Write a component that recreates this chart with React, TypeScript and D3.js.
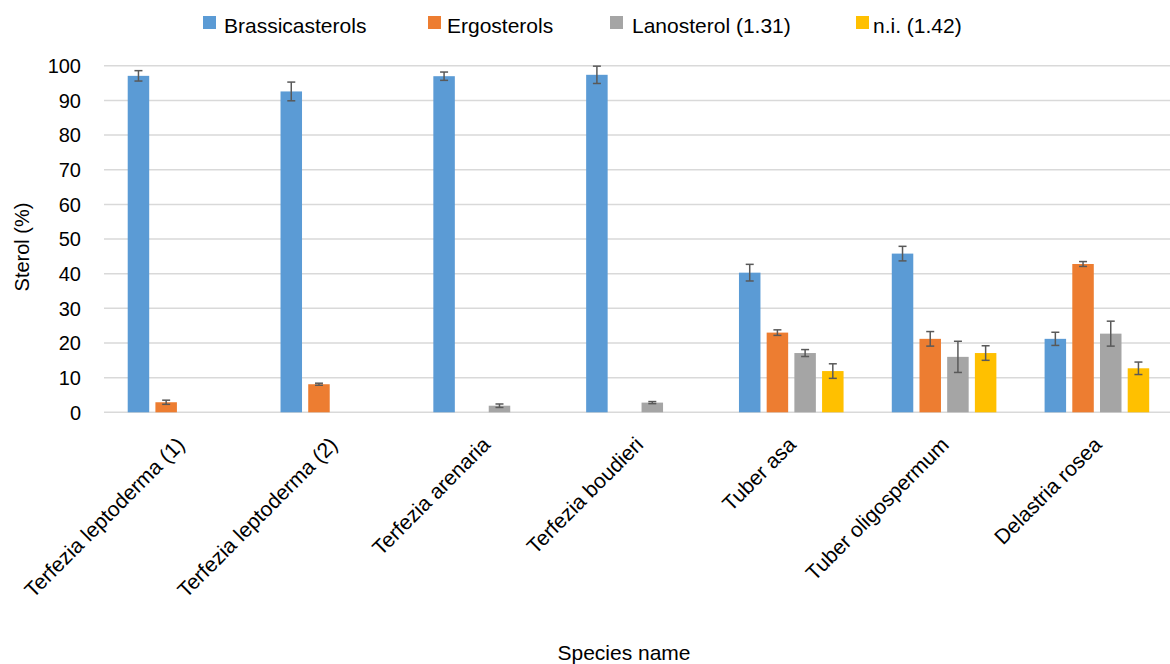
import React from "react";
import * as d3 from "d3";

const categories = [
  "Terfezia leptoderma (1)",
  "Terfezia leptoderma (2)",
  "Terfezia arenaria",
  "Terfezia boudieri",
  "Tuber asa",
  "Tuber oligospermum",
  "Delastria rosea",
];

const seriesNames = ["Brassicasterols", "Ergosterols", "Lanosterol (1.31)", "n.i. (1.42)"];

const brassicasterols = [97.1, 92.6, 97.0, 97.4, 40.3, 45.8, 21.2];
const brassicasterolsErr = [1.5, 2.7, 1.2, 2.5, 2.4, 2.1, 1.9];
const ergosterols = [2.9, 8.1, null, null, 23.0, 21.2, 42.8];
const ergosterolsErr = [0.6, 0.3, null, null, 0.8, 2.1, 0.7];
const lanosterol = [null, null, 1.9, 2.8, 17.1, 16.0, 22.7];
const lanosterolErr = [null, null, 0.5, 0.3, 1.0, 4.5, 3.6];
const ni = [null, null, null, null, 11.9, 17.1, 12.7];
const niErr = [null, null, null, null, 2.1, 2.1, 1.8];

const yTicks = [0, 10, 20, 30, 40, 50, 60, 70, 80, 90, 100];

const colors = ["#5B9BD5", "#ED7D31", "#A5A5A5", "#FFC000"];

const W = 1170;
const H = 664;

export default function App() {
  const values = [brassicasterols, ergosterols, lanosterol, ni];
  const errs = [brassicasterolsErr, ergosterolsErr, lanosterolErr, niErr];

  const x = d3.scaleBand<string>().domain(categories).range([103.6, 1173.3]).padding(0);
  const xi = d3
    .scaleBand<string>()
    .domain(seriesNames)
    .range([-55.4, 55.4])
    .paddingInner(0.224)
    .paddingOuter(0.112);
  const y = d3.scaleLinear().domain([0, 100]).range([412.3, 65.8]);

  const font = "'Liberation Sans', Arial, sans-serif";

  const legendSq = [203, 428, 610, 856];
  const legendTx = [224, 447, 632, 873];

  return (
    <svg
      width={W}
      height={H}
      style={{ position: "absolute", left: 0, top: 0, background: "#fff" }}
      fontFamily={font}
    >
      <rect x={0} y={0} width={W} height={H} fill="#fff" />
      {yTicks.map((t) => (
        <line
          key={"g" + t}
          x1={104}
          x2={W}
          y1={y(t)}
          y2={y(t)}
          stroke="#d9d9d9"
          strokeWidth={1.5}
        />
      ))}
      {yTicks.map((t) => (
        <text
          key={"t" + t}
          x={81}
          y={y(t)}
          dy="0.36em"
          textAnchor="end"
          fontSize={20}
          fill="#000"
        >
          {t}
        </text>
      ))}
      {categories.map((c, ci) => {
        const cx = (x(c) as number) + x.bandwidth() / 2;
        return (
          <g key={c}>
            {seriesNames.map((s, si) => {
              const v = values[si][ci];
              if (v == null) return null;
              const bx = cx + (xi(s) as number);
              const bw = xi.bandwidth();
              return (
                <rect
                  key={s}
                  x={bx}
                  y={y(v)}
                  width={bw}
                  height={y(0) - y(v)}
                  fill={colors[si]}
                />
              );
            })}
            {seriesNames.map((s, si) => {
              const v = values[si][ci];
              const e = errs[si][ci];
              if (v == null || e == null) return null;
              const mx = cx + (xi(s) as number) + xi.bandwidth() / 2;
              const cap = 4;
              return (
                <g key={"e" + s} stroke="#595959" strokeWidth={1.5}>
                  <line x1={mx} x2={mx} y1={y(v + e)} y2={y(v - e)} />
                  <line x1={mx - cap} x2={mx + cap} y1={y(v + e)} y2={y(v + e)} />
                  <line x1={mx - cap} x2={mx + cap} y1={y(v - e)} y2={y(v - e)} />
                </g>
              );
            })}
          </g>
        );
      })}
      {categories.map((c) => {
        const cx = (x(c) as number) + x.bandwidth() / 2;
        return (
          <text
            key={"l" + c}
            transform={`translate(${cx + 6},${446}) rotate(-45)`}
            textAnchor="end"
            fontSize={21}
            fill="#000"
          >
            {c}
          </text>
        );
      })}
      <text x={624} y={660} textAnchor="middle" fontSize={21} fill="#000">
        Species name
      </text>
      <text
        transform={`translate(29,${247}) rotate(-90)`}
        textAnchor="middle"
        fontSize={20}
        fill="#000"
      >
        Sterol (%)
      </text>
      {seriesNames.map((s, i) => (
        <g key={"lg" + s}>
          <rect x={legendSq[i]} y={16} width={13} height={13} fill={colors[i]} />
          <text x={legendTx[i]} y={33} fontSize={21} fill="#000">
            {s}
          </text>
        </g>
      ))}
    </svg>
  );
}
